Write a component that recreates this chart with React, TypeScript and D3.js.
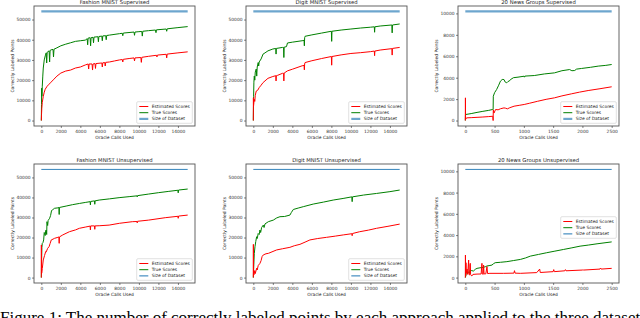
import React, { useRef, useEffect } from "react";
import * as d3 from "d3";

type Pt = [number, number];

// Fashion MNIST, supervised
const fashionSupEst: Pt[] = [[0,0],[20,3000],[50,6000],[100,9000],[200,12000],[300,14000],[400,15500],[600,17000],[800,18000],[1000,19000],[1300,20500],[1600,22000],[2000,23500],[2500,24500],[3000,25000],[3500,26000],[4000,26500],[4500,27500],[4800,28000],[4850,25500],[4900,28000],[5200,28000],[5250,25000],[5300,28000],[5500,28200],[5550,25800],[5600,28200],[6200,28500],[6250,26500],[6300,28600],[6500,28700],[6550,27000],[6600,28800],[7000,29000],[7500,29500],[8000,30000],[8300,30200],[8350,29000],[8400,30300],[9000,30700],[9500,31000],[9550,29500],[9600,31000],[10200,31200],[10250,28800],[10300,31300],[11000,31800],[11800,32300],[11850,31500],[11900,32400],[12800,32800],[12850,31000],[12900,32900],[14000,33500],[15000,34000]];
const fashionSupTrue: Pt[] = [[0,0],[20,8000],[40,16000],[60,12000],[100,17000],[150,22000],[200,26000],[300,30000],[400,32000],[500,33500],[550,28500],[600,33800],[800,34500],[850,29000],[900,34700],[1000,35000],[1200,35200],[1250,31500],[1300,35300],[1600,36000],[2000,37000],[2500,37800],[3000,38500],[3500,39200],[4000,39500],[4500,39800],[4700,40500],[4750,37500],[4800,40800],[5000,41000],[5050,37000],[5100,41000],[5300,41200],[5350,38500],[5400,41300],[5800,41500],[5850,39000],[5900,41600],[6200,41800],[6250,39500],[6300,41900],[6600,42000],[6650,40000],[6700,42100],[7000,42300],[8000,43000],[8300,43200],[8350,42000],[8400,43300],[9500,43800],[9550,42200],[9600,43800],[10000,44000],[10300,44100],[10350,41800],[10400,44200],[11000,44500],[11700,44800],[11750,43500],[11800,44900],[12800,45300],[12850,44200],[12900,45400],[14000,46000],[15000,46500]];

// Digit MNIST, supervised
const digitSupEst: Pt[] = [[0,0],[10,11300],[20,7000],[60,9000],[100,10500],[150,9500],[200,12500],[300,14600],[450,15000],[600,16300],[800,17500],[1000,18800],[1500,20900],[2000,21800],[2300,22200],[2330,19600],[2360,22200],[2500,22400],[3000,23400],[3100,23400],[3130,19600],[3160,23500],[3500,24600],[4000,25400],[5000,27100],[5200,27300],[5230,25100],[5260,28000],[5300,28700],[6000,29600],[7000,30700],[8000,31700],[8030,27400],[8060,31700],[9000,32500],[10000,33200],[11000,33600],[12000,34100],[12400,34400],[12430,32100],[12460,34400],[13000,34900],[14200,35600],[14230,32400],[14260,35700],[15000,36200]];
const digitSupTrue: Pt[] = [[0,0],[30,12000],[60,19000],[100,22000],[150,20000],[200,24000],[300,25500],[350,22000],[400,26500],[500,28700],[550,27000],[600,29000],[800,30500],[1000,32900],[1200,33500],[1500,34500],[2000,35400],[2300,35700],[2330,32900],[2360,35700],[3000,36200],[3100,36200],[3130,31200],[3160,36300],[3400,36600],[3500,38400],[4000,38800],[5000,39500],[5200,39700],[5230,37000],[5260,41000],[5300,41700],[6000,42400],[7000,43300],[8000,44200],[8030,39200],[8060,44200],[9000,44800],[10000,45300],[11000,45800],[12000,46200],[12400,46400],[12430,43700],[12460,46400],[13000,46800],[14200,47300],[14230,43400],[14260,47300],[15000,47800]];

// 20 News Groups, supervised
const newsSupEst: Pt[] = [[0,0],[2,2120],[4,100],[20,250],[100,270],[200,300],[300,330],[400,370],[470,400],[475,0],[478,1000],[490,700],[517,1030],[560,1000],[600,1100],[660,1180],[690,1150],[718,1090],[760,1200],[833,1340],[920,1420],[1006,1500],[1100,1620],[1236,1800],[1380,1980],[1523,2120],[1650,2300],[1810,2490],[1950,2650],[2098,2800],[2300,2970],[2500,3150]];
const newsSupTrue: Pt[] = [[0,0],[3,560],[100,650],[200,760],[300,860],[400,950],[465,1030],[475,1030],[478,2270],[500,2600],[535,2900],[570,3300],[600,3680],[630,3830],[660,3830],[680,3600],[707,3520],[730,3650],[747,3680],[780,3850],[822,4000],[900,4050],[1006,4140],[1010,4050],[1020,4150],[1178,4200],[1350,4350],[1523,4450],[1650,4650],[1782,4760],[1820,4650],[1868,4670],[1900,4800],[1983,4860],[2140,4970],[2270,5080],[2400,5150],[2500,5230]];

// Fashion MNIST, unsupervised
const fashionUnsEst: Pt[] = [[0,0],[5,16300],[15,2000],[50,2200],[100,4500],[200,8800],[330,11000],[450,13000],[500,12800],[650,14600],[800,15500],[900,17000],[1020,18800],[1200,19200],[1360,19600],[1700,20100],[1800,20300],[1830,17100],[1860,20300],[2200,21300],[2880,22900],[3500,23800],[3900,24600],[4500,25200],[5000,25700],[5030,23800],[5060,25800],[5450,25800],[5480,24100],[5510,25800],[6000,25900],[6950,26200],[8000,27100],[9320,27900],[9800,28000],[9830,27300],[9860,28100],[11000,28700],[12700,29900],[14000,30600],[14030,29600],[14060,30700],[15000,31200]];
const fashionUnsTrue: Pt[] = [[0,0],[30,9000],[60,15000],[100,17100],[170,17500],[240,18800],[300,22500],[340,22100],[400,21000],[450,23500],[500,23750],[550,21500],[580,27900],[650,26000],[700,28500],[850,29600],[950,31000],[1050,33500],[1120,33700],[1360,34600],[1700,34800],[1800,35000],[1830,31500],[1860,35000],[2540,35700],[3200,36400],[3900,37000],[4500,37500],[5000,37900],[5030,36300],[5060,38000],[5450,38300],[5480,36600],[5510,38300],[5930,38700],[7000,39300],[7970,39900],[9000,40400],[9800,40800],[9830,40300],[9860,40900],[11000,41700],[12030,42400],[13000,43000],[14000,43600],[14030,42300],[14060,43700],[15000,44200]];

// Digit MNIST, unsupervised
const digitUnsEst: Pt[] = [[0,0],[5,16600],[15,1000],[70,1300],[150,3500],[200,2000],[340,4650],[400,3800],[500,6000],[680,7100],[800,8500],[900,10500],[1020,11300],[1300,11900],[1540,12100],[2390,13800],[3000,14400],[3750,15100],[4200,15900],[4780,16600],[5300,17700],[5800,18800],[6600,19500],[7510,20100],[8400,20700],[9220,21300],[10100,21900],[10130,20900],[10160,22000],[10900,22900],[11800,23700],[12630,24600],[13800,25600],[15000,26700]];
const digitUnsTrue: Pt[] = [[0,0],[30,4000],[70,8800],[100,12000],[170,15400],[250,18000],[340,20400],[400,19500],[500,22000],[600,21500],[680,23750],[750,22500],[850,25000],[1020,26200],[1100,25000],[1200,26800],[1540,27900],[2050,28700],[2400,29800],[2730,30400],[3200,30500],[3750,31200],[3900,32500],[4100,34000],[4600,34700],[5120,35400],[6140,36700],[7200,37700],[8190,38700],[9200,39500],[10100,40300],[10130,37900],[10160,40300],[11300,41200],[12630,42000],[14000,42900],[15000,43700]];

// 20 News Groups, unsupervised
const newsUnsEst: Pt[] = [[0,0],[2,2120],[6,200],[11,1400],[16,400],[30,800],[40,300],[57,1650],[62,300],[74,250],[80,1200],[85,1340],[90,300],[100,200],[114,160],[130,300],[200,330],[270,340],[284,1340],[290,350],[305,300],[312,1180],[320,350],[350,350],[370,1030],[380,380],[420,400],[650,400],[830,420],[840,650],[850,420],[940,400],[1220,470],[1270,800],[1280,480],[1500,560],[1510,750],[1520,560],[1700,640],[1710,750],[1720,640],[2000,710],[2010,760],[2020,710],[2300,800],[2310,900],[2320,800],[2500,870]];
const newsUnsTrue: Pt[] = [[0,0],[15,300],[28,400],[50,550],[70,400],[85,720],[110,650],[140,620],[170,780],[200,870],[250,920],[310,970],[340,1020],[370,1090],[420,1140],[455,1180],[480,1300],[510,1400],[600,1440],[710,1500],[820,1600],[940,1710],[1030,1850],[1110,2020],[1250,2180],[1390,2340],[1530,2490],[1680,2650],[1820,2800],[1960,2960],[2100,3060],[2250,3180],[2500,3360]];

// dataset sizes
const mnistSize: Pt[] = [[0,54000],[15000,54000]];
const newsSize: Pt[] = [[0,10182],[2500,10182]];

const mnistXTicks = [0, 2000, 4000, 6000, 8000, 10000, 12000, 14000];
const mnistYTicks = [0, 10000, 20000, 30000, 40000, 50000];
const newsXTicks = [0, 500, 1000, 1500, 2000, 2500];
const newsYTicks = [0, 2000, 4000, 6000, 8000, 10000];

const legendLabels = ["Estimated Scores", "True Scores", "Size of Dataset"];
const caption = "Figure 1: The number of correctly labeled points by each approach applied to the three datasets.";

const panels = [
  { title: "Fashion MNIST Supervised", row: 0, col: 0, est: fashionSupEst, tru: fashionSupTrue, size: mnistSize, news: false, legendMid: false },
  { title: "Digit MNIST Supervised", row: 0, col: 1, est: digitSupEst, tru: digitSupTrue, size: mnistSize, news: false, legendMid: false },
  { title: "20 News Groups Supervised", row: 0, col: 2, est: newsSupEst, tru: newsSupTrue, size: newsSize, news: true, legendMid: false },
  { title: "Fashion MNIST Unsupervised", row: 1, col: 0, est: fashionUnsEst, tru: fashionUnsTrue, size: mnistSize, news: false, legendMid: false },
  { title: "Digit MNIST Unsupervised", row: 1, col: 1, est: digitUnsEst, tru: digitUnsTrue, size: mnistSize, news: false, legendMid: false },
  { title: "20 News Groups Unsupervised", row: 1, col: 2, est: newsUnsEst, tru: newsUnsTrue, size: newsSize, news: true, legendMid: true },
];

export default function App() {
  const svgRef = useRef<SVGSVGElement>(null);

  useEffect(() => {
    if (!svgRef.current) return;
    const svg = d3.select(svgRef.current);
    svg.selectAll("*").remove();

    const font = "DejaVu Sans, sans-serif";
    const lefts = [34, 246, 458];
    const w = 161;
    const rows = [{ top: 6, bottom: 126, thick: true }, { top: 164, bottom: 283, thick: false }];

    const defs = svg.append("defs");

    panels.forEach((p, i) => {
      const r = rows[p.row];
      const left = lefts[p.col];
      const right = left + w;

      const x = d3.scaleLinear().domain(p.news ? [-125, 2625] : [-750, 15750]).range([left, right]);
      const y = d3.scaleLinear().domain(p.news ? [-509, 10691] : [-2700, 56700]).range([r.bottom, r.top]);

      defs.append("clipPath").attr("id", `clip${i}`)
        .append("rect").attr("x", left).attr("y", r.top).attr("width", w).attr("height", r.bottom - r.top);

      const g = svg.append("g");
      const plot = g.append("g").attr("clip-path", `url(#clip${i})`);

      const line = d3.line<Pt>().x(d => x(d[0])).y(d => y(d[1]));

      // size of dataset
      plot.append("path").datum(p.size)
        .attr("fill", "none")
        .attr("stroke", "#1f77b4")
        .attr("stroke-opacity", r.thick ? 0.65 : 0.9)
        .attr("stroke-width", r.thick ? 2.2 : 1)
        .attr("d", line);

      // true scores
      plot.append("path").datum(p.tru)
        .attr("fill", "none").attr("stroke", "#008000").attr("stroke-width", 1)
        .attr("stroke-linejoin", "round")
        .attr("d", line);

      // estimated scores
      plot.append("path").datum(p.est)
        .attr("fill", "none").attr("stroke", "#ff0000").attr("stroke-width", 1)
        .attr("stroke-linejoin", "round")
        .attr("d", line);

      // frame
      g.append("rect")
        .attr("x", left).attr("y", r.top).attr("width", w).attr("height", r.bottom - r.top)
        .attr("fill", "none").attr("stroke", "#555").attr("stroke-width", 0.9);

      // x axis
      const xt = g.append("g").attr("transform", `translate(0,${r.bottom})`)
        .call(d3.axisBottom(x).tickValues(p.news ? newsXTicks : mnistXTicks).tickSize(2).tickPadding(1.5).tickFormat(d3.format("d")));
      xt.select(".domain").remove();
      xt.selectAll(".tick line").attr("stroke", "#333").attr("stroke-width", 0.6);
      xt.selectAll(".tick text").attr("fill", "#333").attr("font-size", 4.4).attr("font-family", font);

      // y axis
      const yt = g.append("g").attr("transform", `translate(${left},0)`)
        .call(d3.axisLeft(y).tickValues(p.news ? newsYTicks : mnistYTicks).tickSize(2).tickPadding(1.5).tickFormat(d3.format("d")));
      yt.select(".domain").remove();
      yt.selectAll(".tick line").attr("stroke", "#333").attr("stroke-width", 0.6);
      yt.selectAll(".tick text").attr("fill", "#333").attr("font-size", 4.4).attr("font-family", font);

      // title and labels
      g.append("text")
        .attr("x", (left + right) / 2).attr("y", r.top - 2.5)
        .attr("text-anchor", "middle").attr("font-size", 5.3).attr("font-family", font).attr("fill", "#222")
        .text(p.title);
      g.append("text")
        .attr("x", (left + right) / 2).attr("y", r.bottom + 13.3)
        .attr("text-anchor", "middle").attr("font-size", 4.4).attr("font-family", font).attr("fill", "#222")
        .text("Oracle Calls Used");
      g.append("text")
        .attr("transform", `translate(${left - 20.5},${(r.top + r.bottom) / 2}) rotate(-90)`)
        .attr("text-anchor", "middle").attr("font-size", 4.4).attr("font-family", font).attr("fill", "#222")
        .text("Correctly Labeled Points");

      // legend
      const lw = 55.6, lh = 21.6;
      const lx = right - 2.7 - lw;
      const ly = p.legendMid ? (r.top + r.bottom) / 2 - lh / 2 + 4 : r.bottom - 2.7 - lh;
      const lg = g.append("g").attr("transform", `translate(${lx},${ly})`);
      lg.append("rect").attr("width", lw).attr("height", lh).attr("rx", 1.2)
        .attr("fill", "#fff").attr("fill-opacity", 0.85).attr("stroke", "#ccc").attr("stroke-width", 0.6);
      const colors = ["#ff0000", "#008000", "#1f77b4"];
      legendLabels.forEach((lab, k) => {
        const cy = 4.8 + k * 6.2;
        lg.append("line").attr("x1", 2.6).attr("x2", 11.6).attr("y1", cy).attr("y2", cy)
          .attr("stroke", colors[k])
          .attr("stroke-opacity", k === 2 && r.thick ? 0.65 : 1)
          .attr("stroke-width", k === 2 && r.thick ? 2.2 : 1);
        lg.append("text").attr("x", 15).attr("y", cy + 1.6)
          .attr("font-size", 4.4).attr("font-family", font).attr("fill", "#222")
          .text(lab);
      });
    });

    svg.append("text")
      .attr("x", 0).attr("y", 323)
      .attr("font-family", "Liberation Serif, Times New Roman, serif")
      .attr("font-size", 17).attr("fill", "#000")
      .text(caption);
  }, []);

  return (
    <svg ref={svgRef} width={640} height={318}
      style={{ position: "absolute", left: 0, top: 0, background: "#fff" }} />
  );
}
